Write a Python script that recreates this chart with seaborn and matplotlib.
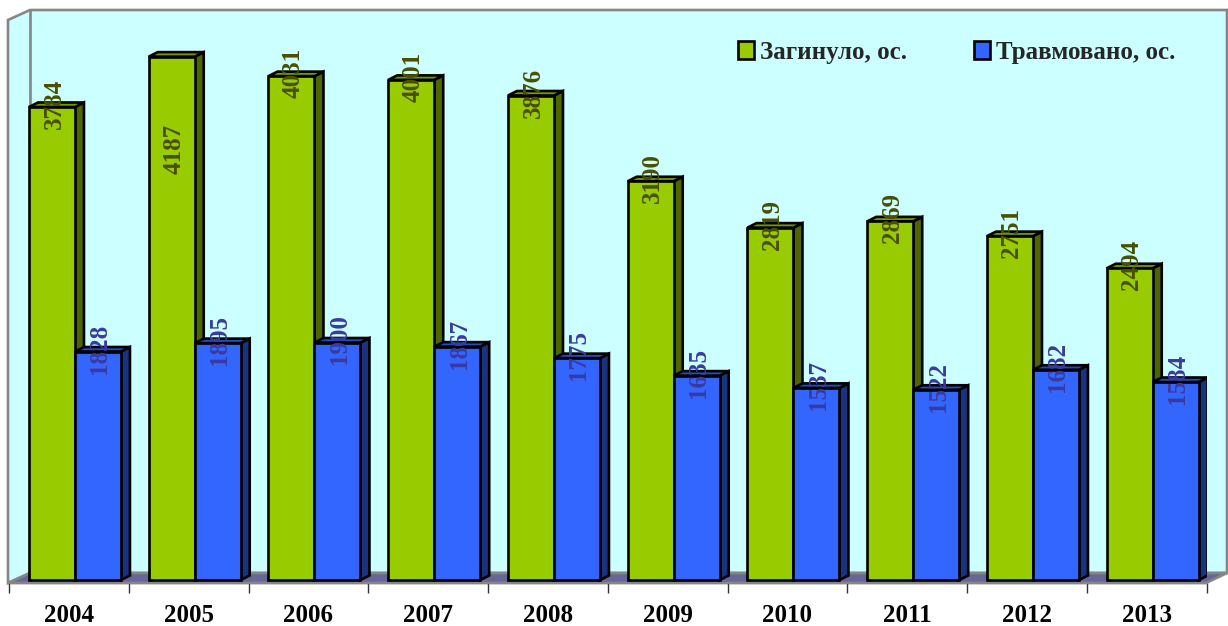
#!/usr/bin/env python3
"""Загиблі та травмовані по роках: стовпчики з псевдо-3D рамкою."""
import matplotlib
matplotlib.use("Agg")
import matplotlib.pyplot as plt
import pandas as pd
import seaborn as sns
from matplotlib.patches import Polygon

years = ["2004", "2005", "2006", "2007", "2008", "2009", "2010", "2011", "2012", "2013"]
killed = [3784, 4187, 4031, 4001, 3876, 3190, 2819, 2869, 2751, 2494]
injured = [1828, 1895, 1900, 1867, 1775, 1635, 1537, 1522, 1682, 1584]
series_names = ["Загинуло, ос.", "Травмовано, ос."]

W, H = 1228, 626
FRONT = {"left": 9, "right": 1206.5, "bottom": 583, "top": 10}
PX_PER_UNIT = 0.125
BASE_PX = 580
DEPTH_X, DEPTH_Y = 9, 4.5
EDGE = 1.9

colors = ["#99CC00", "#3366FF"]
side_colors = ["#4D6600", "#1A3380"]
top_colors = ["#739900", "#264DBF"]
label_colors = ["#4A4F00", "#3A3AA0"]

sns.set_theme(style="white")
plt.rcParams["font.family"] = ["Liberation Serif", "DejaVu Serif"]


def px(x, y):
    return (x / W, 1 - y / H)


fig = plt.figure(figsize=(W / 100, H / 100), dpi=100, facecolor="white")

# ---- walls and floor ----
grey = "#868686"
walls = [
    ([(8, 20), (30, 10), (1227, 10), (1227, 573), (30, 573), (8, 583)], "#CCFFFF"),
    ([(8, 583), (30, 573), (1227, 573), (1206, 583)], "#666699"),
]
for pts, fc in walls:
    fig.add_artist(Polygon([px(*p) for p in pts], closed=True, facecolor=fc, edgecolor=grey,
                           linewidth=1.9, transform=fig.transFigure, zorder=-2))
fig.add_artist(plt.Line2D(*zip(px(30, 10), px(30, 573)), color=grey, linewidth=1.9,
                          transform=fig.transFigure, zorder=-1))

ax = fig.add_axes([
    FRONT["left"] / W, 1 - FRONT["bottom"] / H,
    (FRONT["right"] - FRONT["left"]) / W, (FRONT["bottom"] - FRONT["top"]) / H,
])
ax.patch.set_visible(False)

df = pd.DataFrame({
    "year": years * 2,
    "value": killed + injured,
    "series": [series_names[0]] * len(years) + [series_names[1]] * len(years),
})
sns.barplot(data=df, x="year", y="value", hue="series", palette=colors, saturation=1,
            width=0.768, gap=0, edgecolor="black", linewidth=EDGE, ax=ax)

ax.set_xlim(-0.5, len(years) - 0.5)
ax.set_ylim(-(FRONT["bottom"] - BASE_PX) / PX_PER_UNIT, (BASE_PX - FRONT["top"]) / PX_PER_UNIT)

# ---- side and top faces, taken from the drawn bars ----
px_x = len(years) / (FRONT["right"] - FRONT["left"])
dx = DEPTH_X * px_x
dy = DEPTH_Y / PX_PER_UNIT
shift = 6.1 * px_x

for s, container in enumerate(ax.containers):
    for bar in container:
        bar.set_x(bar.get_x() + shift)
        bar.set_zorder(3 + 2 * s)
        x0, x1 = bar.get_x(), bar.get_x() + bar.get_width()
        h = bar.get_height()
        ax.add_patch(Polygon([(x1, 0), (x1 + dx, dy), (x1 + dx, h + dy), (x1, h)], closed=True,
                             facecolor=side_colors[s], edgecolor="black", linewidth=EDGE,
                             zorder=2 + 2 * s))
        ax.add_patch(Polygon([(x0, h), (x0 + dx, h + dy), (x1 + dx, h + dy), (x1, h)], closed=True,
                             facecolor=top_colors[s], edgecolor="black", linewidth=EDGE,
                             zorder=2 + 2 * s))

# ---- value labels, the tallest one sits lower inside its bar ----
LABEL_DROP = {4187: 95}
for s, container in enumerate(ax.containers):
    for bar in container:
        h = bar.get_height()
        ax.annotate(f"{h:.0f}", xy=(bar.get_x() + bar.get_width() / 2, h),
                    xytext=(2, 3 - LABEL_DROP.get(int(h), 0)), textcoords="offset pixels",
                    rotation=90, ha="center", va="center", fontsize=18, fontweight="bold",
                    color=label_colors[s], zorder=10)

# ---- axis ----
ax.set_xlabel("")
ax.set_ylabel("")
ax.set_yticks([])
ax.set_xticks(range(len(years)), years)
ax.tick_params(axis="x", length=0, pad=15, labelsize=18)
for lab in ax.get_xticklabels():
    lab.set_fontweight("bold")
    lab.set_color("black")
ax.set_xticks([i - 0.5 for i in range(len(years) + 1)], minor=True)
ax.tick_params(axis="x", which="minor", bottom=True, length=7, width=1, color="#333333")
sns.despine(ax=ax, left=True)
ax.spines["bottom"].set_color(grey)
ax.spines["bottom"].set_linewidth(1.6)

# ---- legend ----
handles = ax.get_legend().legend_handles
leg = ax.legend(handles, series_names, ncol=2, frameon=False, loc="center left",
                bbox_to_anchor=px(738, 52), bbox_transform=fig.transFigure,
                prop={"family": "Liberation Serif", "weight": "bold", "size": 18},
                handlelength=0.65, handleheight=0.7, handletextpad=0.22,
                columnspacing=2.69, borderpad=0, borderaxespad=0)
for h in leg.legend_handles:
    h.set_edgecolor("black")
    h.set_linewidth(EDGE)

fig.savefig("out.png", dpi=100)
